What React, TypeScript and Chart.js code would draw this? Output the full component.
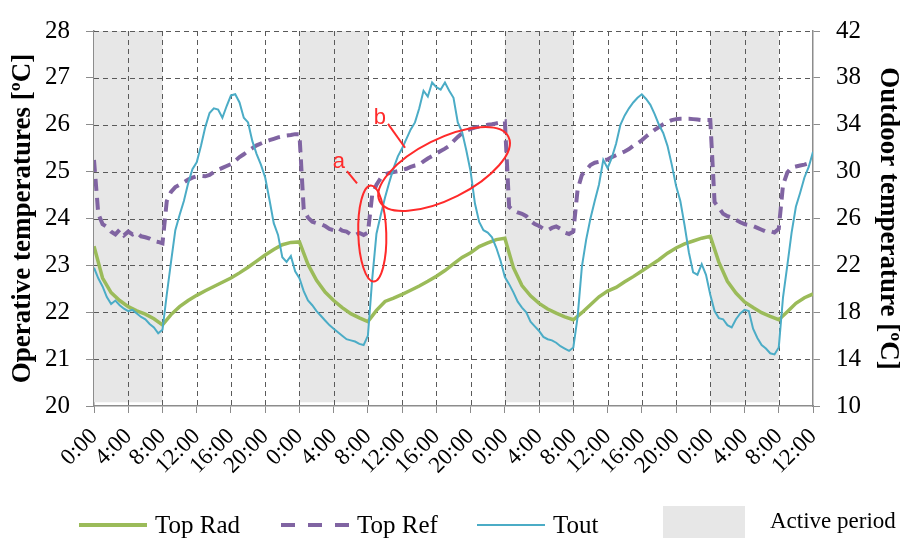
import React, { useEffect, useRef } from "react";
import { Chart, registerables } from "chart.js";

Chart.register(...registerables);

// ---------------- DATA ----------------
// x axis: hours from the first 0:00 (3.5 days)
const X_TICK_VALUES = [0, 4, 8, 12, 16, 20, 24, 28, 32, 36, 40, 44, 48, 52, 56, 60, 64, 68, 72, 76, 80, 84];
const X_TICK_LABELS = [
  "0:00", "4:00", "8:00", "12:00", "16:00", "20:00",
  "0:00", "4:00", "8:00", "12:00", "16:00", "20:00",
  "0:00", "4:00", "8:00", "12:00", "16:00", "20:00",
  "0:00", "4:00", "8:00", "12:00",
];
const LEFT_TICKS = [20, 21, 22, 23, 24, 25, 26, 27, 28];
const RIGHT_TICKS = [10, 14, 18, 22, 26, 30, 34, 38, 42];

// active periods (start hour, end hour)
const ACTIVE_PERIODS: [number, number][] = [[0, 8], [24, 32], [48, 56], [72, 80]];

// Top Rad, hourly (h0..h84)
const TOP_RAD_STEP = 1;
const TOP_RAD = [
  23.41, 22.73, 22.42, 22.25, 22.12, 22.03, 21.96, 21.86,
  21.73, 21.95, 22.12, 22.25, 22.36, 22.46, 22.55, 22.64,
  22.73, 22.84, 22.96, 23.09, 23.22, 23.34, 23.44, 23.49,
  23.5, 23.02, 22.68, 22.43, 22.25, 22.1, 21.97, 21.88,
  21.8, 22.04, 22.23, 22.3, 22.38, 22.47, 22.56, 22.66,
  22.77, 22.89, 23.03, 23.17, 23.27, 23.4, 23.48, 23.55,
  23.58, 22.95, 22.57, 22.35, 22.19, 22.07, 21.98, 21.9,
  21.84, 21.99, 22.16, 22.33, 22.45, 22.53, 22.65, 22.76,
  22.88, 23.0, 23.12, 23.26, 23.37, 23.46, 23.52, 23.58,
  23.62, 23.07, 22.66, 22.41, 22.22, 22.1, 21.99, 21.91,
  21.84, 22.01, 22.19, 22.31, 22.39,
];

// Top Ref, half-hourly (h0..h84)
const TOP_REF_STEP = 0.5;
const TOP_REF = [
  25.25, 24.1, 23.88, 23.82, 23.72, 23.66, 23.76, 23.64,
  23.72, 23.66, 23.7, 23.62, 23.6, 23.57, 23.52, 23.5,
  23.47, 24.37, 24.57, 24.67, 24.72, 24.77, 24.83, 24.87,
  24.9, 24.91, 24.9, 24.93, 24.99, 25.04, 25.08, 25.12,
  25.16, 25.23, 25.31, 25.37, 25.44, 25.5, 25.56, 25.6,
  25.64, 25.67, 25.7, 25.73, 25.75, 25.77, 25.78, 25.8,
  25.8, 24.2, 24.02, 23.93, 23.9, 23.88, 23.84, 23.78,
  23.75, 23.8, 23.74, 23.72, 23.66, 23.64, 23.69, 23.65,
  23.7, 24.5, 24.72, 24.86, 24.94, 24.97, 24.99, 25.01,
  25.04, 25.06, 25.1, 25.13, 25.15, 25.22, 25.28, 25.33,
  25.39, 25.44, 25.49, 25.55, 25.65, 25.74, 25.82, 25.87,
  25.91, 25.94, 25.96, 25.98, 26.0, 26.01, 26.03, 26.05,
  26.07, 24.25, 24.17, 24.13, 24.1, 24.05, 23.95, 23.88,
  23.84, 23.78, 23.75, 23.8, 23.83, 23.78, 23.7, 23.67,
  23.72, 24.62, 24.93, 25.03, 25.14, 25.19, 25.21, 25.24,
  25.26, 25.31, 25.35, 25.39, 25.43, 25.48, 25.55, 25.6,
  25.67, 25.75, 25.82, 25.89, 25.95, 26.01, 26.06, 26.1,
  26.12, 26.13, 26.13, 26.13, 26.12, 26.11, 26.1, 26.1,
  26.1, 24.35, 24.23, 24.1, 24.05, 24.02, 23.97, 23.92,
  23.88, 23.86, 23.84, 23.8, 23.76, 23.72, 23.73, 23.7,
  23.78, 24.72, 24.98, 25.09, 25.11, 25.13, 25.15, 25.18,
  25.2,
];

// Tout (right axis), half-hourly (h0..h84)
const TOUT_STEP = 0.5;
const TOUT = [
  21.8, 20.9, 20.2, 19.3, 18.7, 19.0, 18.6, 18.3,
  18.1, 18.2, 17.9, 17.6, 17.4, 17.0, 16.7, 16.2,
  16.5, 19.5, 22.3, 25.0, 26.3, 27.5, 29.0, 30.2,
  30.8, 32.2, 33.8, 35.0, 35.4, 35.3, 34.6, 35.6,
  36.5, 36.6, 35.9, 34.6, 34.2, 32.6, 31.5, 30.6,
  29.5, 27.6, 25.6, 24.6, 22.7, 22.3, 22.8, 21.5,
  20.9, 19.8, 19.0, 18.6, 18.1, 17.7, 17.3, 16.9,
  16.6, 16.3, 16.0, 15.7, 15.6, 15.5, 15.3, 15.2,
  16.0, 20.8, 24.7, 26.3, 27.8, 29.1, 30.3, 31.3,
  32.0, 32.8, 33.6, 34.2, 35.4, 36.9, 36.4, 37.6,
  37.2, 37.0, 37.6, 36.9, 36.3, 34.2, 33.4, 31.8,
  30.0, 27.3, 25.7, 25.0, 24.8, 24.4, 23.5, 22.4,
  21.0, 20.4, 19.7, 18.9, 18.4, 18.0, 17.2, 16.8,
  16.4, 15.9, 15.7, 15.6, 15.4, 15.1, 14.9, 14.7,
  15.0, 17.6, 21.9, 24.2, 26.0, 27.5, 28.9, 31.0,
  30.3, 31.2, 32.4, 34.0, 34.8, 35.4, 35.9, 36.3,
  36.6, 36.2, 35.7, 34.9, 34.0, 33.3, 32.2, 30.6,
  28.8, 27.5, 25.4, 23.1, 21.4, 21.2, 22.1, 21.2,
  19.5, 18.1, 17.5, 17.4, 16.9, 16.7, 17.4, 17.9,
  18.2, 18.1, 16.6, 15.8, 15.2, 14.9, 14.5, 14.4,
  15.0, 19.3, 22.0, 24.8, 27.0, 28.2, 29.5, 30.4,
  31.7,
];

// red annotations, anchored in data coordinates (hour, left-axis value)
const ANNOT_LABELS = [
  { text: "a", h: 28.6, v: 25.2, lineFrom: [29.55, 25.01], lineTo: [30.73, 24.75] },
  { text: "b", h: 33.4, v: 26.14, lineFrom: [34.35, 26.02], lineTo: [36.34, 25.51] },
];
const ANNOT_ELLIPSES = [
  { h: 32.51, v: 23.68, rx: 14, ry: 48, rot: -0.03 },
  { h: 40.9, v: 25.055, rx: 72, ry: 30, rot: -0.464 },
];

// ---------------- STYLE ----------------
const SERIF = "'Times New Roman', 'Liberation Serif', serif";
const GREEN = "#9bbb59";
const PURPLE = "#8064a2";
const BLUE = "#4bacc6";
const GRID = "#5a5a5a";
const AXIS = "#8c8c8c";
const SHADE = "#e7e7e7";
const RED = "#ff2a2a";

const toXY = (arr: number[], step: number) => arr.map((v, i) => ({ x: i * step, y: v }));

function drawDashedGrid(chart: any) {
  const { ctx, chartArea, scales } = chart;
  const x = scales.x;
  const y = scales.y;
  ctx.save();
  ctx.strokeStyle = GRID;
  ctx.lineWidth = 1;
  ctx.setLineDash([5, 4]);
  for (const v of X_TICK_VALUES) {
    if (v === 0 || v === 84) continue;
    const px = Math.round(x.getPixelForValue(v)) + 0.5;
    ctx.beginPath();
    ctx.moveTo(px, chartArea.top);
    ctx.lineTo(px, chartArea.bottom);
    ctx.stroke();
  }
  for (const v of LEFT_TICKS) {
    if (v === 20) continue;
    const py = Math.round(y.getPixelForValue(v)) + 0.5;
    ctx.beginPath();
    ctx.moveTo(chartArea.left, py);
    ctx.lineTo(chartArea.right, py);
    ctx.stroke();
  }
  ctx.restore();
}

const backgroundPlugin = {
  id: "shadeAndGrid",
  beforeDatasetsDraw(chart: any) {
    const { ctx, chartArea, scales } = chart;
    const x = scales.x;
    const y = scales.y;
    ctx.save();
    ctx.fillStyle = SHADE;
    const top = chartArea.top;
    const bottom = y.getPixelForValue(20.08);
    ACTIVE_PERIODS.forEach(([a, b]) => {
      const x1 = x.getPixelForValue(a);
      const x2 = x.getPixelForValue(b);
      ctx.fillRect(x1, top, x2 - x1, bottom - top);
    });
    ctx.restore();
    drawDashedGrid(chart);
  },
};

const annotPlugin = {
  id: "annot",
  afterDatasetsDraw(chart: any) {
    const { ctx, scales } = chart;
    const x = scales.x;
    const y = scales.y;
    ctx.save();
    ctx.strokeStyle = RED;
    ctx.lineWidth = 2;
    ANNOT_ELLIPSES.forEach((e) => {
      ctx.beginPath();
      ctx.ellipse(x.getPixelForValue(e.h), y.getPixelForValue(e.v), e.rx, e.ry, e.rot, 0, Math.PI * 2);
      ctx.stroke();
    });
    ctx.fillStyle = RED;
    ctx.font = "22px 'Liberation Sans', 'DejaVu Sans', sans-serif";
    ctx.textAlign = "center";
    ctx.textBaseline = "middle";
    ANNOT_LABELS.forEach((l) => {
      ctx.fillText(l.text, x.getPixelForValue(l.h), y.getPixelForValue(l.v));
      ctx.beginPath();
      ctx.moveTo(x.getPixelForValue(l.lineFrom[0]), y.getPixelForValue(l.lineFrom[1]));
      ctx.lineTo(x.getPixelForValue(l.lineTo[0]), y.getPixelForValue(l.lineTo[1]));
      ctx.stroke();
    });
    ctx.restore();
  },
};

const legendPlugin = {
  id: "customLegend",
  afterDraw(chart: any) {
    const { ctx } = chart;
    const ly = 525;
    ctx.save();
    ctx.lineCap = "butt";
    ctx.strokeStyle = GREEN;
    ctx.lineWidth = 4;
    ctx.beginPath();
    ctx.moveTo(79, ly);
    ctx.lineTo(147, ly);
    ctx.stroke();
    ctx.strokeStyle = PURPLE;
    ctx.setLineDash([14, 13]);
    ctx.beginPath();
    ctx.moveTo(281, ly);
    ctx.lineTo(349, ly);
    ctx.stroke();
    ctx.setLineDash([]);
    ctx.strokeStyle = BLUE;
    ctx.lineWidth = 2;
    ctx.beginPath();
    ctx.moveTo(477, ly);
    ctx.lineTo(545, ly);
    ctx.stroke();
    ctx.fillStyle = SHADE;
    ctx.fillRect(663, 506, 82, 32);

    ctx.fillStyle = "#000";
    ctx.textBaseline = "middle";
    ctx.textAlign = "left";
    ctx.font = `25px ${SERIF}`;
    ctx.fillText("Top Rad", 155, ly + 1);
    ctx.fillText("Top Ref", 357, ly + 1);
    ctx.fillText("Tout", 553, ly + 1);
    ctx.font = `23px ${SERIF}`;
    ctx.fillText("Active period", 770, 522);
    ctx.restore();
  },
};

export default function App() {
  const ref = useRef<HTMLCanvasElement>(null);

  useEffect(() => {
    document.body.style.margin = "0";
    const canvas = ref.current;
    if (!canvas) return;
    const chart = new Chart(canvas, {
      type: "line",
      data: {
        datasets: [
          {
            label: "Tout",
            data: toXY(TOUT, TOUT_STEP),
            yAxisID: "y1",
            borderColor: BLUE,
            borderWidth: 2,
            pointRadius: 0,
            tension: 0,
            order: 0,
          },
          {
            label: "Top Ref",
            data: toXY(TOP_REF, TOP_REF_STEP),
            yAxisID: "y",
            borderColor: PURPLE,
            borderWidth: 4,
            borderDash: [12, 7],
            pointRadius: 0,
            tension: 0,
            order: 1,
          },
          {
            label: "Top Rad",
            data: toXY(TOP_RAD, TOP_RAD_STEP),
            yAxisID: "y",
            borderColor: GREEN,
            borderWidth: 3.5,
            pointRadius: 0,
            tension: 0,
            order: 2,
          },
        ],
      },
      options: {
        responsive: false,
        animation: false,
        devicePixelRatio: 1,
        layout: { padding: { top: 17, left: 0, right: 0, bottom: 0 } },
        plugins: {
          legend: { display: false },
          tooltip: { enabled: false },
        },
        scales: {
          x: {
            type: "linear",
            min: 0,
            max: 84,
            afterBuildTicks: (s: any) => {
              s.ticks = X_TICK_VALUES.map((v) => ({ value: v }));
            },
            afterFit: (s: any) => {
              s.height = 136;
            },
            ticks: {
              autoSkip: false,
              maxRotation: 45,
              minRotation: 45,
              padding: 10,
              color: "#000",
              font: { family: SERIF, size: 23 },
              callback: (v: any) => X_TICK_LABELS[X_TICK_VALUES.indexOf(Number(v))] ?? "",
            },
            grid: { drawOnChartArea: false, tickLength: 7, tickColor: AXIS, color: GRID },
            border: { color: AXIS, width: 1.5 },
          },
          y: {
            type: "linear",
            position: "left",
            min: 20,
            max: 28,
            afterBuildTicks: (s: any) => {
              s.ticks = LEFT_TICKS.map((v) => ({ value: v }));
            },
            afterFit: (s: any) => {
              s.width = 94;
            },
            ticks: {
              padding: 16,
              color: "#000",
              font: { family: SERIF, size: 25 },
            },
            grid: { drawOnChartArea: false, tickLength: 8, tickColor: AXIS, color: GRID },
            border: { color: AXIS, width: 1.5 },
            title: {
              display: true,
              text: "Operative temperatures [ºC]",
              color: "#000",
              font: { family: SERIF, size: 27, weight: "bold" },
              padding: { top: 7, bottom: 0 },
            },
          },
          y1: {
            type: "linear",
            position: "right",
            min: 10,
            max: 42,
            afterBuildTicks: (s: any) => {
              s.ticks = RIGHT_TICKS.map((v) => ({ value: v }));
            },
            afterFit: (s: any) => {
              s.width = 91;
            },
            ticks: {
              padding: 16,
              color: "#000",
              font: { family: SERIF, size: 25 },
            },
            grid: { drawOnChartArea: false, tickLength: 7, tickColor: AXIS, color: GRID },
            border: { color: AXIS, width: 1.5 },
            title: {
              display: true,
              text: "Outdoor temperature [ºC]",
              color: "#000",
              font: { family: SERIF, size: 27, weight: "bold" },
              padding: { top: 0, bottom: 0 },
            },
          },
        },
      } as any,
      plugins: [backgroundPlugin, annotPlugin, legendPlugin],
    });
    return () => chart.destroy();
  }, []);

  return <canvas ref={ref} width={904} height={542} style={{ display: "block" }} />;
}
